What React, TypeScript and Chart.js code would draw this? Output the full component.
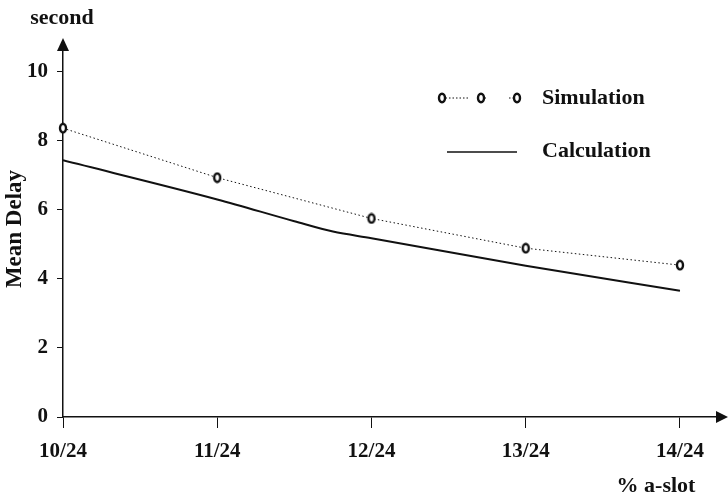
import React, { useEffect, useRef } from "react";
import { Chart, registerables } from "chart.js";

Chart.register(...registerables);

// ---- data ----
const xTickValues = [10, 11, 12, 13, 14];
const xTickLabels = ["10/24", "11/24", "12/24", "13/24", "14/24"];
const yTickValues = [0, 2, 4, 6, 8, 10];
const simulationX = [10, 11, 12, 13, 14];
const simulationDelay = [8.35, 6.92, 5.74, 4.88, 4.39];
const calculationX = [10, 11, 11.5, 11.75, 12, 13, 14];
const calculationDelay = [7.42, 6.29, 5.66, 5.36, 5.17, 4.37, 3.65];

const INK = "#111";
const FONT = "Liberation Serif";

function makeMarker(): HTMLCanvasElement {
  const c = document.createElement("canvas");
  c.width = 10;
  c.height = 12;
  const g = c.getContext("2d")!;
  g.beginPath();
  g.ellipse(5, 6, 3, 4.2, 0, 0, Math.PI * 2);
  g.fillStyle = "#fff";
  g.fill();
  g.lineWidth = 2.4;
  g.strokeStyle = INK;
  g.stroke();
  return c;
}

export default function App() {
  const ref = useRef<HTMLCanvasElement | null>(null);

  useEffect(() => {
    if (!ref.current) return;
    const marker = makeMarker();

    const decor = {
      id: "decor",
      afterDraw(chart: any) {
        const ctx = chart.ctx as CanvasRenderingContext2D;
        const a = chart.chartArea;
        ctx.save();
        ctx.fillStyle = INK;
        ctx.strokeStyle = INK;
        // y arrow
        ctx.beginPath();
        ctx.moveTo(a.left, a.top - 12);
        ctx.lineTo(a.left - 6, a.top + 1);
        ctx.lineTo(a.left + 6, a.top + 1);
        ctx.closePath();
        ctx.fill();
        // x arrow
        ctx.beginPath();
        ctx.moveTo(a.right + 11, a.bottom);
        ctx.lineTo(a.right - 1, a.bottom - 6);
        ctx.lineTo(a.right - 1, a.bottom + 6);
        ctx.closePath();
        ctx.fill();

        ctx.font = `bold 22px "${FONT}"`;
        ctx.textBaseline = "middle";
        ctx.textAlign = "center";
        ctx.fillText("second", 62, 18);
        ctx.fillText("% a-slot", 656, 486);

        ctx.save();
        ctx.translate(15, 229);
        ctx.rotate(-Math.PI / 2);
        ctx.font = `bold 23px "${FONT}"`;
        ctx.fillText("Mean Delay", 0, 0);
        ctx.restore();

        // legend
        ctx.textAlign = "left";
        ctx.fillText("Simulation", 542, 98);
        ctx.fillText("Calculation", 542, 151);
        ctx.lineWidth = 1;
        ctx.setLineDash([1.5, 2]);
        ctx.beginPath();
        ctx.moveTo(442, 98);
        ctx.lineTo(470, 98);
        ctx.moveTo(481, 98);
        ctx.lineTo(486, 98);
        ctx.moveTo(509, 98);
        ctx.lineTo(517, 98);
        ctx.stroke();
        ctx.setLineDash([]);
        [442, 481, 517].forEach((x) => ctx.drawImage(marker, x - 5, 92));
        ctx.lineWidth = 1.5;
        ctx.beginPath();
        ctx.moveTo(447, 152);
        ctx.lineTo(517, 152);
        ctx.stroke();
        ctx.restore();
      },
    };

    const chart = new Chart(ref.current, {
      type: "line",
      data: {
        datasets: [
          {
            label: "Simulation",
            data: simulationX.map((x, i) => ({ x, y: simulationDelay[i] })),
            borderColor: INK,
            borderWidth: 1,
            borderDash: [1.5, 2.5],
            pointStyle: marker as any,
            pointRadius: 5,
            tension: 0,
            clip: false as any,
          },
          {
            label: "Calculation",
            data: calculationX.map((x, i) => ({ x, y: calculationDelay[i] })),
            borderColor: INK,
            borderWidth: 2,
            pointRadius: 0,
            tension: 0.2,
            cubicInterpolationMode: "monotone",
          },
        ],
      },
      options: {
        responsive: false,
        animation: false,
        layout: { padding: { top: 50, right: 11, left: 0, bottom: 0 } },
        plugins: {
          legend: { display: false },
          tooltip: { enabled: false },
        },
        scales: {
          x: {
            type: "linear",
            min: 10,
            max: 14.24,
            afterBuildTicks: (s: any) => {
              s.ticks = xTickValues.map((v) => ({ value: v }));
            },
            afterFit: (s: any) => {
              s.height = 81;
            },
            grid: {
              drawOnChartArea: false,
              drawTicks: true,
              tickLength: 11,
              color: INK,
              lineWidth: 1,
            },
            border: { display: true, color: INK, width: 1.5 },
            ticks: {
              color: INK,
              font: { family: FONT, size: 21, weight: "bold" },
              padding: 11,
              maxRotation: 0,
              autoSkip: false,
              callback: (_v: any, i: number) => xTickLabels[i],
            },
          },
          y: {
            type: "linear",
            min: 0,
            max: 10.61,
            afterBuildTicks: (s: any) => {
              s.ticks = yTickValues.map((v) => ({ value: v }));
            },
            afterFit: (s: any) => {
              s.width = 63;
            },
            grid: {
              drawOnChartArea: false,
              drawTicks: true,
              tickLength: 6,
              color: INK,
              lineWidth: 1,
            },
            border: { display: true, color: INK, width: 1.5 },
            ticks: {
              color: INK,
              font: { family: FONT, size: 21, weight: "bold" },
              padding: 9,
              autoSkip: false,
              callback: (v: any) => String(v),
            },
          },
        },
      },
      plugins: [decor],
    });
    return () => chart.destroy();
  }, []);

  return (
    <canvas
      ref={ref}
      width={728}
      height={498}
      style={{ position: "absolute", left: 0, top: 0, display: "block" }}
    />
  );
}
